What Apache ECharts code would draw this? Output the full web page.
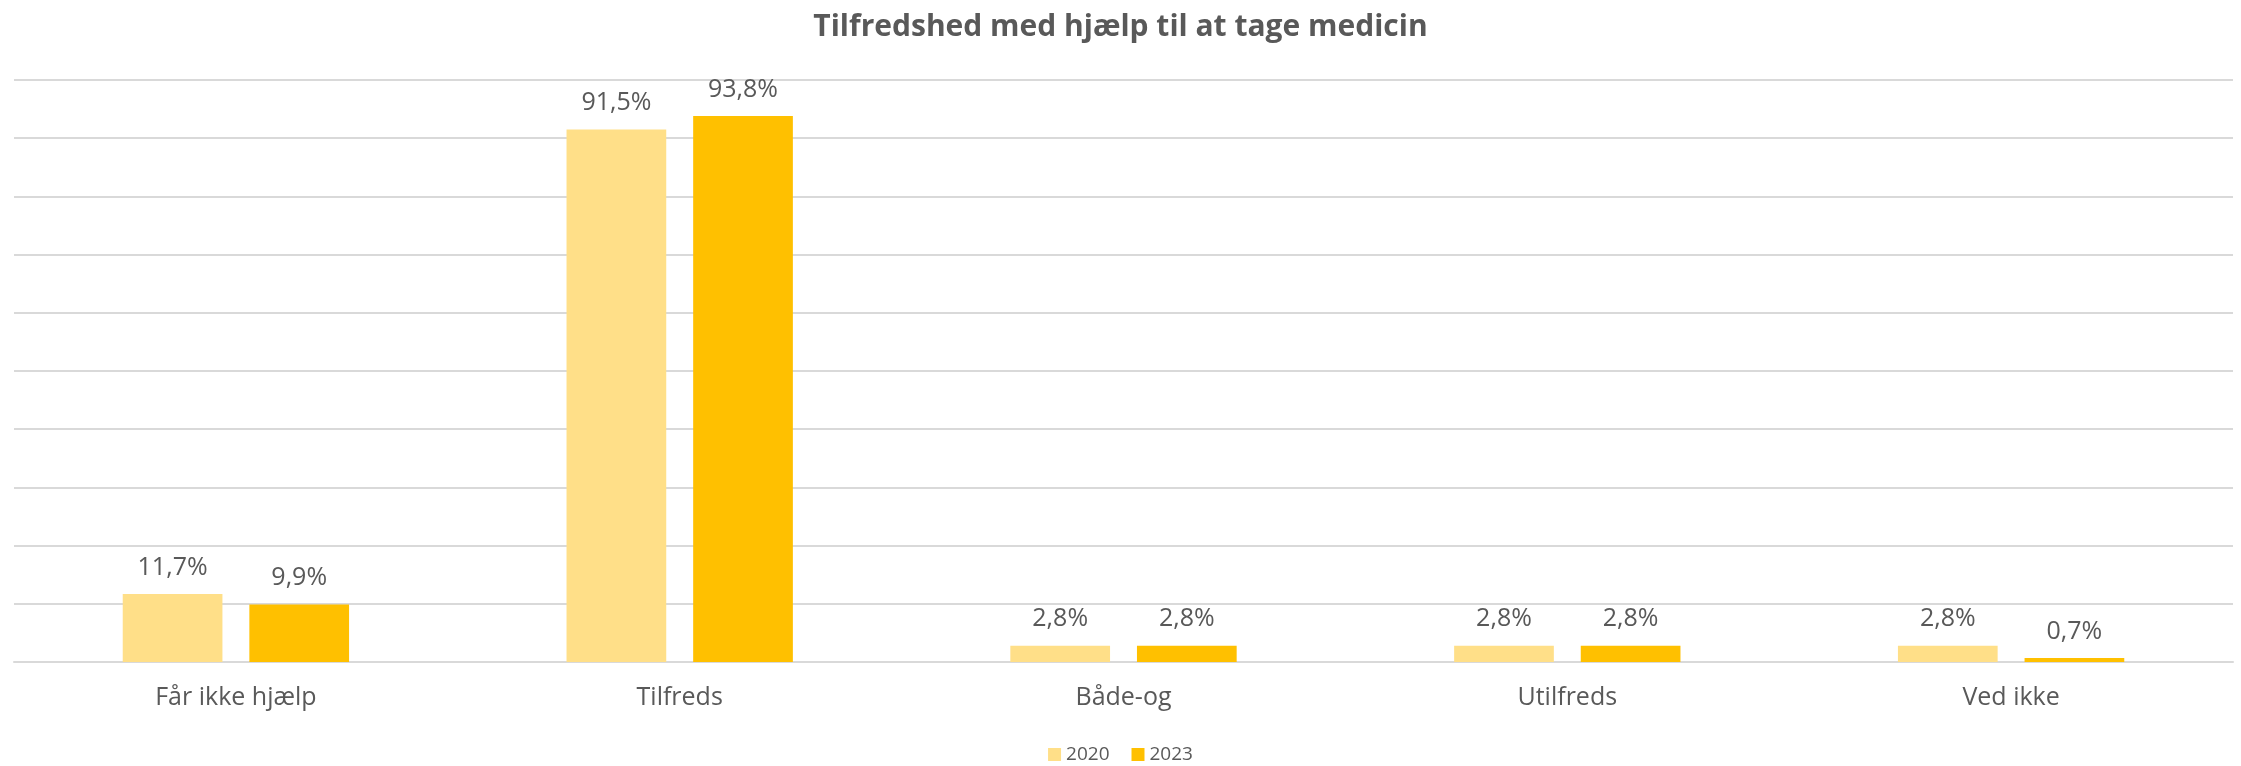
<!DOCTYPE html>
<html lang="da">
<head>
    <meta charset="UTF-8">
    <title>Tilfredshed med hjælp til at tage medicin</title>
    <script type="text/javascript" src="https://cdn.jsdelivr.net/npm/echarts@6/dist/echarts.min.js"></script>
</head>
<body style="height: 766px; margin: 0; width: 2241px">
<div id="container" style="height: 100%; width: 100%"></div>
<script type="text/javascript">
    var categories = ['Får ikke hjælp', 'Tilfreds', 'Både-og', 'Utilfreds', 'Ved ikke'];
    var values2020 = [11.7, 91.5, 2.8, 2.8, 2.8];
    var values2023 = [9.9, 93.8, 2.8, 2.8, 0.7];

    var dom = document.getElementById("container");
    var myChart = echarts.init(dom);

    function pct(p) {
        return p.value.toFixed(1).replace('.', ',') + '%';
    }

    var labelStyle = {
        show: true,
        position: 'top',
        distance: 14,
        formatter: pct,
        color: '#595959',
        fontSize: 25,
        fontFamily: 'Open Sans'
    };

    var option = {
        title: {
            text: 'Tilfredshed med hjælp til at tage medicin',
            left: 'center',
            top: 7,
            textStyle: {
                color: '#595959',
                fontSize: 30,
                fontWeight: 'bold',
                fontFamily: 'Open Sans'
            }
        },
        grid: {left: 14, right: 8, top: 80, bottom: 104},
        legend: {
            bottom: 2,
            padding: 0,
            left: 'center',
            itemWidth: 13,
            itemHeight: 13,
            itemGap: 22,
            icon: 'rect',
            textStyle: {color: '#595959', fontSize: 19, fontFamily: 'Open Sans'},
            data: ['2020', '2023']
        },
        xAxis: {
            type: 'category',
            data: categories,
            axisTick: {show: false},
            axisLine: {lineStyle: {color: '#D9D9D9', width: 2}},
            axisLabel: {color: '#595959', fontSize: 25, margin: 23, fontFamily: 'Open Sans'}
        },
        yAxis: {
            type: 'value',
            min: 0,
            max: 100,
            interval: 10,
            axisLabel: {show: false},
            axisLine: {show: false},
            splitLine: {lineStyle: {color: '#D9D9D9', width: 2}}
        },
        series: [
            {
                name: '2020',
                type: 'bar',
                data: values2020,
                barGap: '27%',
                barCategoryGap: '49%',
                itemStyle: {color: '#FFDF88'},
                label: labelStyle
            },
            {
                name: '2023',
                type: 'bar',
                data: values2023,
                itemStyle: {color: '#FFC000'},
                label: labelStyle
            }
        ]
    };
    myChart.setOption(option);
</script>
</body>
</html>
